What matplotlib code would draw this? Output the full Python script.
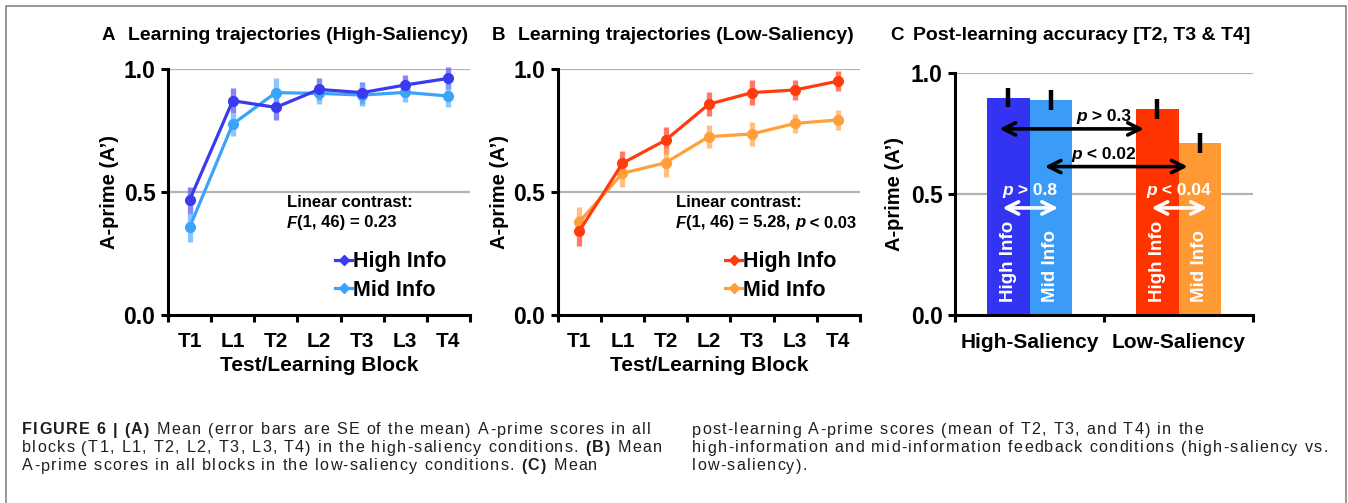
import matplotlib
matplotlib.use("Agg")
import matplotlib.pyplot as plt
import matplotlib.transforms as mtransforms
from matplotlib.lines import Line2D
from matplotlib.patches import Rectangle
import numpy as np

# ---------------- data ----------------
blocks = ['T1', 'L1', 'T2', 'L2', 'T3', 'L3', 'T4']
hs_high = [0.467, 0.871, 0.844, 0.917, 0.904, 0.935, 0.962]
hs_high_se = [0.055, 0.050, 0.050, 0.045, 0.045, 0.040, 0.045]
hs_mid = [0.356, 0.776, 0.904, 0.901, 0.894, 0.905, 0.890]
hs_mid_se = [0.060, 0.047, 0.060, 0.045, 0.045, 0.038, 0.043]
ls_high = [0.341, 0.617, 0.711, 0.857, 0.904, 0.915, 0.951]
ls_high_se = [0.060, 0.050, 0.055, 0.050, 0.050, 0.040, 0.040]
ls_mid = [0.379, 0.576, 0.619, 0.725, 0.736, 0.779, 0.793]
ls_mid_se = [0.060, 0.055, 0.060, 0.047, 0.050, 0.040, 0.040]

groups = ['High-Saliency', 'Low-Saliency']
post_high = [0.899, 0.851]
post_high_se = [0.040, 0.041]
post_mid = [0.890, 0.710]
post_mid_se = [0.040, 0.041]

series_labels = ['High Info', 'Mid Info']
y_ticks = [0.0, 0.5, 1.0]
y_ticklabels = ['0.0', '0.5', '1.0']

# ---------------- style ----------------
plt.rcParams['font.family'] = ['Liberation Sans', 'DejaVu Sans']
plt.rcParams['font.weight'] = 'bold'
plt.rcParams['axes.labelweight'] = 'bold'

cap_family = ['Liberation Sans', 'DejaVu Sans']

W, H = 1348, 503
fig = plt.figure(figsize=(W / 100, H / 100), dpi=100)
fig.patch.set_facecolor('white')

def fx(px):
    return px / W

def fy(py):
    return 1 - py / H

def ax_rect(left, right, top, bottom):
    return [fx(left), fy(bottom), fx(right) - fx(left), fy(top) - fy(bottom)]

renderer = fig.canvas.get_renderer()
_wcache = {}

def seg_width(s, **kw):
    key = (s, tuple(sorted((k, str(v)) for k, v in kw.items())))
    if key in _wcache:
        return _wcache[key]
    t1 = fig.text(0, 0, '|' + s + '|', **kw)
    t2 = fig.text(0, 0, '||', **kw)
    w = t1.get_window_extent(renderer).width - t2.get_window_extent(renderer).width
    t1.remove(); t2.remove()
    _wcache[key] = w
    return w

def rich(trans, x, y, segs, ha='left', va='center', **kw):
    ws = []
    for s, extra in segs:
        d = dict(kw); d.update(extra)
        ws.append(seg_width(s, **d))
    total = sum(ws)
    dx = 0 if ha == 'left' else -total / 2
    for (s, extra), w in zip(segs, ws):
        d = dict(kw); d.update(extra)
        fig.text(x, y, s, ha='left', va=va,
                 transform=mtransforms.offset_copy(trans, fig, x=dx, y=0, units='dots'), **d)
        dx += w

def tracked_width(segs, track, **kw):
    total = 0
    for s, extra in segs:
        d = dict(kw); d.update(extra)
        for ch in s:
            total += seg_width(ch, **d) + track
    return total

def tracked(trans, x, y, segs, track, va='baseline', **kw):
    dx = 0
    for s, extra in segs:
        d = dict(kw); d.update(extra)
        for ch in s:
            w = seg_width(ch, **d)
            if ch != ' ':
                fig.text(x, y, ch, ha='left', va=va,
                         transform=mtransforms.offset_copy(trans, fig, x=dx, y=0, units='dots'), **d)
            dx += w + track

GRID = '#b4b4b4'
AX_LW = 2.2

def style_axes(ax):
    ax.set_ylim(0, 1.0)
    for s in ['top', 'right']:
        ax.spines[s].set_visible(False)
    for s in ['left', 'bottom']:
        ax.spines[s].set_linewidth(AX_LW)
        ax.spines[s].set_color('black')
    ax.set_yticks(y_ticks)
    ax.set_yticklabels(y_ticklabels, fontsize=16.5, fontweight='bold')
    ax.tick_params(axis='y', length=5, width=AX_LW, pad=4)
    for v in y_ticks[1:]:
        ax.axhline(v, color=GRID, lw=1.6, zorder=0)
    ax.set_facecolor('none')

def line_panel(ax, hi, hi_se, mid, mid_se, c_hi, c_mid, e_hi, e_mid):
    x = np.arange(len(blocks)) + 0.5
    ax.set_xlim(0, len(blocks))
    style_axes(ax)
    ax.errorbar(x, hi, yerr=hi_se, fmt='none', ecolor=e_hi, elinewidth=3.8, capsize=0, zorder=2, clip_on=False)
    ax.errorbar(x, mid, yerr=mid_se, fmt='none', ecolor=e_mid, elinewidth=3.8, capsize=0, zorder=2, clip_on=False)
    ax.plot(x, hi, color=c_hi, lw=2.3, marker='o', ms=7, zorder=4, clip_on=False)
    ax.plot(x, mid, color=c_mid, lw=2.3, marker='o', ms=7, zorder=3, clip_on=False)
    ax.set_xticks(x)
    ax.set_xticklabels(blocks, fontsize=15, fontweight='bold')
    ax.tick_params(axis='x', which='major', length=0, pad=12)
    ax.set_xticks(np.arange(len(blocks) + 1), minor=True)
    ax.tick_params(axis='x', which='minor', length=5, width=AX_LW)
    ax.set_xlabel('Test/Learning Block', fontsize=15, fontweight='bold', labelpad=4)
    ax.set_ylabel('A-prime (A\u2019)', fontsize=14.5, fontweight='bold', labelpad=3)
    handles = [Line2D([0], [0], color=c_hi, lw=2.3, marker='D', ms=5),
               Line2D([0], [0], color=c_mid, lw=2.3, marker='D', ms=5)]
    return handles

# ---------------- Panel A ----------------
axA = fig.add_axes(ax_rect(168, 470, 69, 315))
hA = line_panel(axA, hs_high, hs_high_se, hs_mid, hs_mid_se,
                '#3a3aee', '#3aa4fb', (0.36, 0.36, 0.95, 0.75), (0.40, 0.70, 1.0, 0.75))
axA.legend(hA, series_labels, loc='center left', bbox_to_anchor=(fx(335), fy(276)),
           bbox_transform=fig.transFigure, frameon=False, handlelength=0.8, handletextpad=0.05,
           borderpad=0, borderaxespad=0, labelspacing=0.35, prop={'size': 15.5, 'weight': 'bold'})

# ---------------- Panel B ----------------
axB = fig.add_axes(ax_rect(557.7, 860, 69, 315))
hB = line_panel(axB, ls_high, ls_high_se, ls_mid, ls_mid_se,
                '#ff3c0e', '#ffa03a', (1.0, 0.30, 0.20, 0.75), (1.0, 0.68, 0.35, 0.75))
axB.legend(hB, series_labels, loc='center left', bbox_to_anchor=(fx(725), fy(276)),
           bbox_transform=fig.transFigure, frameon=False, handlelength=0.8, handletextpad=0.05,
           borderpad=0, borderaxespad=0, labelspacing=0.35, prop={'size': 15.5, 'weight': 'bold'})

# Linear contrast annotations
fig.text(fx(286.7), fy(203), 'Linear contrast:', fontsize=12, fontweight='bold', ha='left', va='center')
rich(fig.transFigure, fx(286.7), fy(223), [('F', {'style': 'italic'}), ('(1, 46) = 0.23', {})],
     fontsize=12, fontweight='bold')
fig.text(fx(676), fy(203), 'Linear contrast:', fontsize=12, fontweight='bold', ha='left', va='center')
rich(fig.transFigure, fx(676), fy(223), [('F', {'style': 'italic'}), ('(1, 46) = 5.28, ', {}),
                                          ('p', {'style': 'italic'}), (' < 0.03', {})],
     fontsize=12, fontweight='bold')

# ---------------- Panel C ----------------
axC = fig.add_axes(ax_rect(955, 1253, 73.3, 315))
axC.set_xlim(0, len(groups))
style_axes(axC)
bw = 0.284
gx = np.arange(len(groups)) + 0.5
x_hi = gx - bw / 2
x_mid = gx + bw / 2
cols_hi = ['#3333f2', '#ff3300']
cols_mid = ['#3a9cf6', '#ff9933']
axC.bar(x_hi, post_high, width=bw, color=cols_hi, zorder=2)
axC.bar(x_mid, post_mid, width=bw, color=cols_mid, zorder=2)
axC.errorbar(x_hi, post_high, yerr=post_high_se, fmt='none', ecolor='black', elinewidth=3.2, capsize=0, zorder=3)
axC.errorbar(x_mid, post_mid, yerr=post_mid_se, fmt='none', ecolor='black', elinewidth=3.2, capsize=0, zorder=3)
axC.set_xticks(gx)
axC.set_xticklabels(groups, fontsize=15, fontweight='bold')
axC.tick_params(axis='x', which='major', length=0, pad=13)
axC.set_xticks(np.arange(len(groups) + 1), minor=True)
axC.tick_params(axis='x', which='minor', length=5, width=AX_LW)
axC.set_ylabel('A-prime (A\u2019)', fontsize=14.5, fontweight='bold', labelpad=5)

for xs, lab in ((x_hi, series_labels[0]), (x_mid, series_labels[1])):
    for xi in xs:
        axC.text(xi, 0.055, lab, rotation=90, ha='center', va='bottom', color='white',
                 fontsize=13.5, fontweight='bold', zorder=4)

arrow_kw = dict(arrowstyle='<->', lw=2.6, mutation_scale=22, shrinkA=0, shrinkB=0)
# between-saliency comparisons (black)
axC.annotate('', xy=(x_hi[1] - 0.09, 0.77), xytext=(x_hi[0] - 0.06, 0.77),
             arrowprops=dict(color='black', **arrow_kw), zorder=5)
axC.annotate('', xy=(x_mid[1] - 0.08, 0.614), xytext=(x_mid[0] - 0.04, 0.614),
             arrowprops=dict(color='black', **arrow_kw), zorder=5)
# within-saliency comparisons (white)
for g in range(len(groups)):
    axC.annotate('', xy=(x_mid[g] + 0.05, 0.443), xytext=(x_hi[g] - 0.04, 0.443),
                 arrowprops=dict(color='white', **arrow_kw), zorder=5)

rich(axC.transData, 1.0, 0.82, [('p', {'style': 'italic'}), (' > 0.3', {})], ha='center',
     fontsize=12.5, fontweight='bold', color='black')
rich(axC.transData, 1.0, 0.662, [('p', {'style': 'italic'}), (' < 0.02', {})], ha='center',
     fontsize=12.5, fontweight='bold', color='black')
rich(axC.transData, gx[0], 0.517, [('p', {'style': 'italic'}), (' > 0.8', {})], ha='center',
     fontsize=12.5, fontweight='bold', color='white')
rich(axC.transData, gx[1], 0.517, [('p', {'style': 'italic'}), (' < 0.04', {})], ha='center',
     fontsize=12.5, fontweight='bold', color='white')

# ---------------- Titles ----------------
for letter, lx, title, tx in [('A', 101.7, 'Learning trajectories (High-Saliency)', 128),
                              ('B', 491.7, 'Learning trajectories (Low-Saliency)', 518),
                              ('C', 890, 'Post-learning accuracy [T2, T3 & T4]', 913.3)]:
    fig.text(fx(lx), fy(36), letter, fontsize=13.5, fontweight='bold', ha='left', va='center')
    fig.text(fx(tx), fy(36), title, fontsize=14, fontweight='bold', ha='left', va='center')

# ---------------- Frame ----------------
fig.patches.append(Rectangle((fx(5.5), -0.2), fx(1345.5) - fx(5.5), fy(5.5) + 0.2,
                             transform=fig.transFigure, fill=False, edgecolor='#7a7a7a',
                             lw=1.1, clip_on=False))

# ---------------- Caption (lightly letter-spaced) ----------------
cap_left = [
    [('FIGURE 6 | (A)', {'fontweight': 'bold'}), (' Mean (error bars are SE of the mean) A-prime scores in all', {})],
    [('blocks (T1, L1, T2, L2, T3, L3, T4) in the high-saliency conditions. ', {}), ('(B)', {'fontweight': 'bold'}), (' Mean', {})],
    [('A-prime scores in all blocks in the low-saliency conditions. ', {}), ('(C)', {'fontweight': 'bold'}), (' Mean', {})],
]
cap_right = [
    [('post-learning A-prime scores (mean of T2, T3, and T4) in the', {})],
    [('high-information and mid-information feedback conditions (high-saliency vs.', {})],
    [('low-saliency).', {})],
]
cap_fs = 11.6
cap_kw = dict(family=cap_family, fontsize=cap_fs, fontweight='normal', color='#1e1e1e')
n1 = sum(len(s) for s, _ in cap_left[0])
nat = tracked_width(cap_left[0], 0, **cap_kw)
track = (630 - nat) / n1
baselines = [434.5, 452.5, 470.5]
for segs, yb in zip(cap_left, baselines):
    tracked(fig.transFigure, fx(22), fy(yb), segs, track, **cap_kw)
for segs, yb in zip(cap_right, baselines):
    tracked(fig.transFigure, fx(692), fy(yb), segs, track, **cap_kw)

fig.savefig('out.png', dpi=100)
